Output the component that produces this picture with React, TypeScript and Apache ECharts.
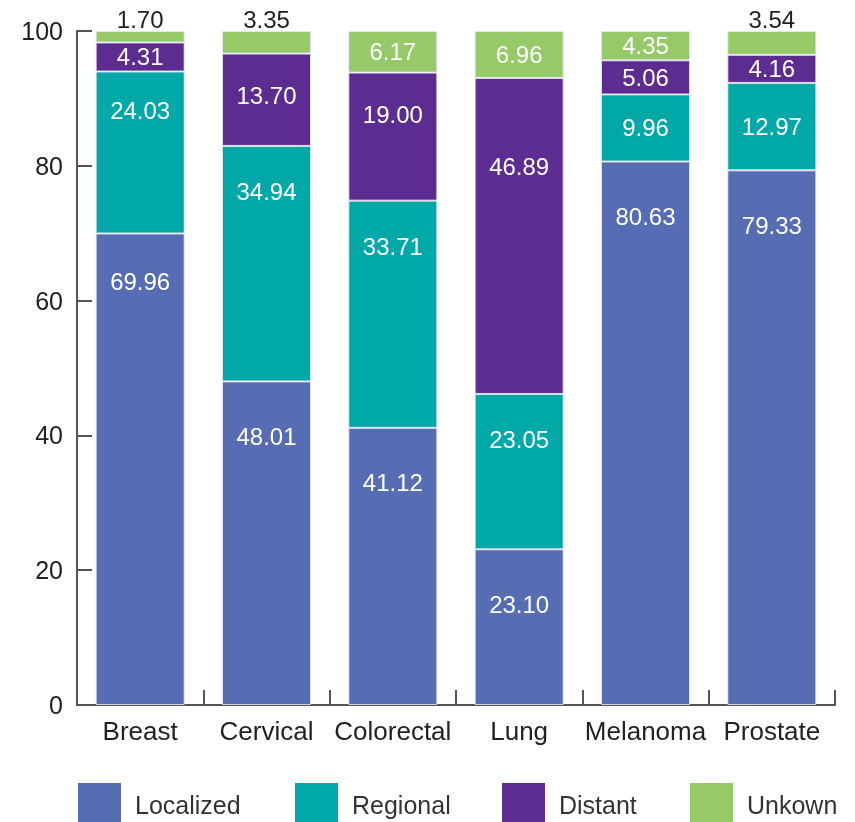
import React, { useEffect, useRef } from "react";
import * as echarts from "echarts";

const categories = ["Breast", "Cervical", "Colorectal", "Lung", "Melanoma", "Prostate"];
const localized = [69.96, 48.01, 41.12, 23.1, 80.63, 79.33];
const regional = [24.03, 34.94, 33.71, 23.05, 9.96, 12.97];
const distant = [4.31, 13.7, 19.0, 46.89, 5.06, 4.16];
const unknown = [1.7, 3.35, 6.17, 6.96, 4.35, 3.54];
const seriesNames = ["Localized", "Regional", "Distant", "Unkown"];
const yMin = 0;
const yMax = 100;
const yInterval = 20;

const colors = ["#566db4", "#00a9a8", "#5c2c91", "#96c967"];
const FONT = "'Liberation Sans', Arial, Helvetica, sans-serif";

const GRID_TOP = 31;
const GRID_BOTTOM = 117;
const PLOT_H = 822 - GRID_TOP - GRID_BOTTOM;
const PX = PLOT_H / (yMax - yMin);

// label depth (px from segment top) per series, with a few hand placements
// keys: `${seriesIndex}-${categoryIndex}`
const depths = [55, 46, 42, 0];
const depthOverrides: Record<string, number> = {
  "0-0": 48,
  "1-0": 39,
  "2-3": 89,
};

function buildData(values: number[], s: number) {
  return values.map((v, i) => {
    const h = v * PX;
    if (s === 3 && v < 4) {
      return {
        value: v,
        label: { position: "top", distance: 0, color: "#222", align: "center", verticalAlign: "bottom" },
      };
    }
    const key = `${s}-${i}`;
    const d = depthOverrides[key] !== undefined ? depthOverrides[key] : Math.min(depths[s] || h / 2, h / 2);
    return { value: v, label: { position: ["50%", d] } };
  });
}

export default function App() {
  const ref = useRef<HTMLDivElement>(null);
  useEffect(() => {
    if (!ref.current) return;
    const chart = echarts.init(ref.current, undefined, { renderer: "svg" });
    const all = [localized, regional, distant, unknown];
    const legendLefts = [78, 295, 502, 690];
    chart.setOption({
      animation: false,
      textStyle: { fontFamily: FONT },
      grid: { left: 77, right: 20, top: GRID_TOP, bottom: GRID_BOTTOM, containLabel: false },
      legend: seriesNames.map((n, i) => ({
        data: [n],
        left: legendLefts[i],
        top: 783,
        padding: 0,
        itemWidth: 43,
        itemHeight: 43,
        icon: "rect",
        itemStyle: { borderWidth: 0 },
        selectedMode: false,
        textStyle: { fontSize: 25, color: "#333", fontFamily: FONT, padding: [0, 0, 0, 9] },
      })),
      xAxis: {
        type: "category",
        data: categories,
        axisLine: { show: true, lineStyle: { color: "#555", width: 2 } },
        axisTick: { show: true, inside: true, length: 15, lineStyle: { color: "#555", width: 2 } },
        axisLabel: { fontSize: 26, color: "#222", margin: 13, fontFamily: FONT, interval: 0 },
      },
      yAxis: {
        type: "value",
        min: yMin,
        max: yMax,
        interval: yInterval,
        splitLine: { show: false },
        axisLine: { show: true, lineStyle: { color: "#555", width: 2 } },
        axisTick: { show: true, inside: true, length: 15, lineStyle: { color: "#555", width: 2 } },
        axisLabel: { fontSize: 25, color: "#222", margin: 14, fontFamily: FONT },
      },
      series: all.map((vals, s) => ({
        name: seriesNames[s],
        type: "bar",
        stack: "total",
        barWidth: 89,
        itemStyle: { color: colors[s], borderColor: "rgba(230,232,245,0.85)", borderWidth: 1 },
        label: {
          show: true,
          color: "#fff",
          fontSize: 24,
          fontFamily: FONT,
          align: "center",
          verticalAlign: "middle",
          formatter: (p: any) => Number(p.value).toFixed(2),
        },
        data: buildData(vals, s),
      })),
    });
    return () => chart.dispose();
  }, []);
  return <div ref={ref} style={{ position: "fixed", left: 0, top: 0, width: 855, height: 822 }} />;
}
